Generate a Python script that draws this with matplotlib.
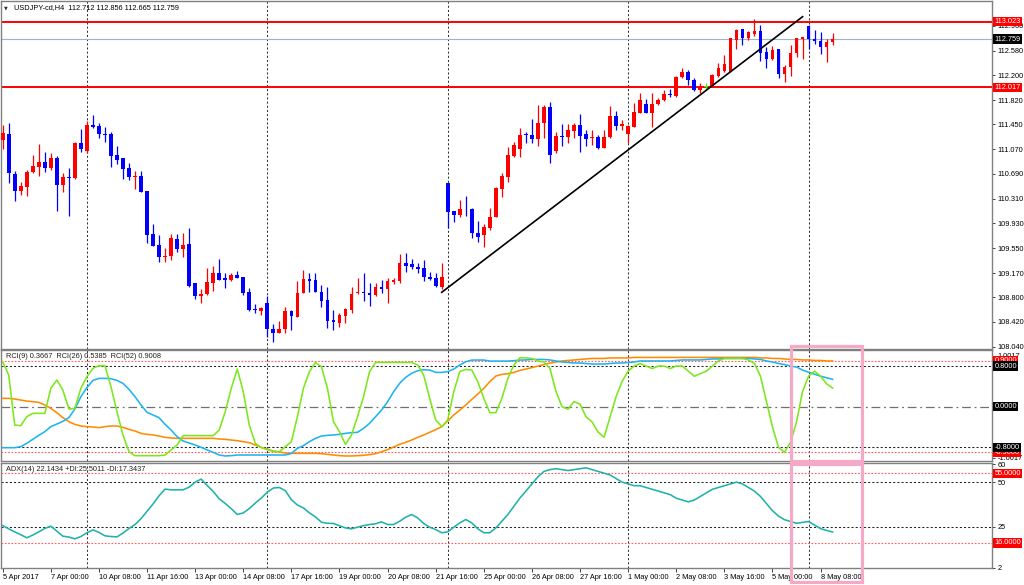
import numpy as np
import matplotlib
matplotlib.use('Agg')
import matplotlib.pyplot as plt
from matplotlib.patches import Rectangle

plt.rcParams['font.family'] = ['Liberation Sans', 'DejaVu Sans']

symbol = 'USDJPY-cd,H4'

opens = [111.21, 111.297, 110.688, 110.433, 110.494, 110.714, 110.801, 110.877, 110.775, 110.929,
         110.52, 110.647, 110.632, 111.159, 111.046, 111.445, 111.424, 111.307, 111.297, 110.98,
         110.929, 110.775, 110.637, 110.658, 110.428, 109.763, 109.599, 109.415, 109.431, 109.691,
         109.538, 109.615, 109.022, 108.817, 108.843, 109.022, 109.165, 109.088, 109.062, 109.139,
         109.103, 108.884, 108.618, 108.592, 108.715, 108.316, 108.255, 108.306, 108.587, 108.5,
         108.868, 109.078, 109.062, 108.884, 108.756, 108.449, 108.408, 108.515, 108.602, 108.858,
         108.873, 108.863, 108.832, 108.955, 108.924, 109.037, 109.052, 109.318, 109.308, 109.262,
         109.241, 109.114, 109.088, 108.96, 110.545, 110.116, 110.065, 110.157, 110.157, 109.778,
         109.753, 109.855, 110.034, 110.463, 110.647, 110.969, 111.072, 111.302, 111.286, 111.225,
         111.465, 111.721, 111.041, 111.276, 111.261, 111.353, 111.44, 111.297, 111.24, 111.261,
         111.082, 111.251, 111.578, 111.43, 111.302, 111.414, 111.629, 111.762, 111.629, 111.757,
         111.823, 111.915, 111.885, 112.181, 112.258, 112.13, 111.977, 112.028, 112.028, 112.191,
         112.273, 112.258, 112.743, 112.907, 112.779, 112.836, 112.881, 112.554, 112.452, 112.6,
         112.222, 112.324, 112.539, 112.754, 112.963, 112.759, 112.733, 112.631, 112.712]
highs = [111.44, 111.465, 110.734, 110.56, 110.75, 110.98, 111.148, 111.031, 111.005, 110.964,
         110.698, 110.785, 111.184, 111.373, 111.506, 111.593, 111.465, 111.404, 111.338, 111.118,
         110.929, 110.852, 110.734, 110.734, 110.428, 109.921, 109.753, 109.548, 109.763, 109.763,
         109.778, 109.865, 109.022, 108.919, 109.241, 109.282, 109.39, 109.175, 109.165, 109.206,
         109.114, 108.935, 108.689, 108.643, 108.817, 108.388, 108.434, 108.653, 108.602, 109.047,
         109.216, 109.165, 109.165, 108.986, 108.96, 108.602, 108.551, 108.628, 108.96, 109.088,
         109.175, 109.011, 109.022, 109.057, 109.088, 109.088, 109.461, 109.482, 109.385, 109.318,
         109.369, 109.19, 109.175, 109.318, 110.555, 110.126, 110.289, 110.351, 110.162, 109.967,
         109.916, 110.162, 110.484, 110.709, 111.107, 111.184, 111.399, 111.338, 111.527, 111.747,
         111.747, 111.798, 111.338, 111.45, 111.45, 111.476, 111.609, 111.363, 111.363, 111.286,
         111.363, 111.731, 111.66, 111.516, 111.44, 111.772, 111.925, 111.833, 111.936, 111.849,
         111.977, 111.987, 112.191, 112.309, 112.283, 112.156, 112.079, 112.079, 112.217, 112.386,
         112.513, 112.779, 112.907, 112.912, 112.881, 113.066, 112.974, 112.641, 112.651, 112.6,
         112.36, 112.667, 112.779, 112.795, 112.974, 112.897, 112.861, 112.759, 112.856]
lows = [111.067, 110.555, 110.279, 110.366, 110.356, 110.698, 110.658, 110.724, 110.75, 110.121,
        110.417, 110.049, 110.612, 111.031, 111.005, 111.389, 111.235, 111.184, 110.801, 110.837,
        110.612, 110.596, 110.453, 110.417, 109.625, 109.589, 109.333, 109.344, 109.369, 109.497,
        109.42, 108.96, 108.771, 108.715, 108.832, 108.894, 109.057, 108.945, 109.047, 109.088,
        108.832, 108.592, 108.551, 108.526, 108.183, 108.117, 108.244, 108.244, 108.296, 108.49,
        108.858, 108.873, 108.873, 108.653, 108.321, 108.296, 108.347, 108.398, 108.551, 108.848,
        108.746, 108.664, 108.817, 108.858, 108.705, 109.001, 109.011, 109.18, 109.226, 109.175,
        109.052, 109.062, 108.96, 108.919, 109.855, 109.947, 110.034, 110.044, 109.702, 109.65,
        109.574, 109.829, 110.024, 110.341, 110.571, 110.954, 110.954, 111.159, 111.159, 111.123,
        111.235, 110.862, 111.005, 111.118, 111.159, 111.235, 111.031, 111.123, 111.133, 111.067,
        111.082, 111.235, 111.363, 111.363, 111.159, 111.404, 111.619, 111.619, 111.414, 111.747,
        111.813, 111.864, 111.874, 112.166, 112.053, 111.961, 111.936, 111.977, 112.018, 112.181,
        112.258, 112.248, 112.6, 112.667, 112.743, 112.81, 112.421, 112.309, 112.437, 112.156,
        112.094, 112.191, 112.488, 112.447, 112.6, 112.677, 112.524, 112.401, 112.665]
closes = [111.312, 110.698, 110.433, 110.504, 110.724, 110.811, 110.877, 110.775, 110.929, 110.52,
          110.647, 110.632, 111.159, 111.067, 111.44, 111.414, 111.297, 111.292, 110.964, 110.903,
          110.765, 110.647, 110.658, 110.417, 109.753, 109.589, 109.42, 109.431, 109.702, 109.538,
          109.599, 108.976, 108.817, 108.848, 109.032, 109.165, 109.062, 109.062, 109.139, 109.098,
          108.868, 108.602, 108.602, 108.628, 108.306, 108.255, 108.316, 108.587, 108.51, 108.868,
          109.078, 109.052, 108.873, 108.746, 108.439, 108.423, 108.526, 108.618, 108.848, 108.878,
          108.858, 108.832, 108.95, 108.924, 109.047, 109.062, 109.328, 109.282, 109.257, 109.231,
          109.103, 109.083, 108.97, 109.114, 110.111, 110.065, 110.151, 110.146, 109.788, 109.727,
          109.88, 110.034, 110.479, 110.658, 110.98, 111.133, 111.286, 111.286, 111.225, 111.465,
          111.711, 110.98, 111.271, 111.261, 111.363, 111.44, 111.271, 111.225, 111.256, 111.082,
          111.261, 111.578, 111.424, 111.45, 111.424, 111.634, 111.823, 111.629, 111.762, 111.823,
          111.915, 111.90, 112.181, 112.253, 112.13, 111.977, 112.038, 112.028, 112.207, 112.309,
          112.37, 112.769, 112.897, 112.769, 112.866, 112.881, 112.549, 112.452, 112.59, 112.222,
          112.334, 112.549, 112.769, 112.795, 112.754, 112.728, 112.631, 112.718, 112.759]

rci9 = [0.885, 0.623, -0.361, -0.374, -0.197, -0.131, -0.131, -0.131, 0.361, 0.525,
        0.328, -0.046, -0.033, 0.361, 0.59, 0.754, 0.807, 0.807, 0.393, -0.098,
        -0.557, -0.885, -0.964, -0.964, -0.964, -0.964, -0.964, -0.951, -0.852, -0.754,
        -0.57, -0.57, -0.57, -0.57, -0.57, -0.57, -0.459, -0.098, 0.361, 0.741,
        0.295, -0.361, -0.721, -0.807, -0.833, -0.885, -0.885, -0.787, -0.689, -0.197,
        0.361, 0.689, 0.872, 0.787, 0.361, -0.295, -0.492, -0.741, -0.557, -0.197,
        0.197, 0.689, 0.872, 0.872, 0.872, 0.872, 0.872, 0.872, 0.872, 0.82,
        0.623, 0.164, -0.262, -0.393, -0.262, 0.295, 0.689, 0.734, 0.721, 0.492,
        0.164, -0.118, -0.118, 0.164, 0.557, 0.82, 0.964,
        0.96, 0.95, 0.9, 0.88, 0.75, 0.3, 0.0, -0.05, 0.1, 0.05,
        -0.2, -0.3, -0.5, -0.6, -0.2, 0.2, 0.5, 0.7, 0.8, 0.85,
        0.8, 0.75, 0.8, 0.8, 0.75, 0.8, 0.8, 0.7, 0.6, 0.65,
        0.7, 0.8, 0.9, 0.95, 0.95, 0.95, 0.95, 0.92, 0.85, 0.6,
        0.1, -0.4, -0.8, -0.9, -0.7, -0.3, 0.3, 0.6, 0.7, 0.6,
        0.45, 0.3667]
rci26 = [-0.807, -0.807, -0.807, -0.787, -0.721, -0.643, -0.564, -0.492, -0.393, -0.341,
         -0.289, -0.216, -0.046, 0.197, 0.374, 0.518, 0.557, 0.557, 0.551, 0.518,
         0.459, 0.341, 0.197, 0.033, -0.111, -0.164, -0.216, -0.348, -0.459, -0.59,
         -0.675, -0.715, -0.754, -0.8, -0.852, -0.898, -0.951, -0.97, -0.964, -0.951,
         -0.951, -0.951, -0.951, -0.951, -0.951, -0.951, -0.951, -0.951, -0.92, -0.82,
         -0.767, -0.689, -0.623, -0.577, -0.564, -0.557, -0.544, -0.525, -0.511, -0.505,
         -0.426, -0.328, -0.197, -0.066, 0.098, 0.295, 0.459, 0.577, 0.656, 0.708,
         0.728, 0.721, 0.675, 0.675, 0.689, 0.741, 0.82, 0.885, 0.918, 0.918,
         0.918, 0.898, 0.898, 0.898, 0.898, 0.905, 0.918,
         0.92, 0.93, 0.93, 0.93, 0.92, 0.9, 0.88, 0.87, 0.86, 0.86,
         0.85, 0.84, 0.84, 0.84, 0.85, 0.86, 0.86, 0.87, 0.88, 0.9,
         0.9, 0.9, 0.9, 0.9, 0.9, 0.91, 0.92, 0.92, 0.92, 0.92,
         0.93, 0.94, 0.94, 0.95, 0.95, 0.95, 0.95, 0.95, 0.94, 0.93,
         0.9, 0.88, 0.85, 0.83, 0.8, 0.78, 0.72, 0.68, 0.64, 0.6,
         0.57, 0.5385]
rci52 = [0.164, 0.164, 0.151, 0.131, 0.111, 0.098, 0.085, 0.033, -0.033, -0.118,
         -0.216, -0.295, -0.348, -0.38, -0.393, -0.4, -0.413, -0.393, -0.38, -0.38,
         -0.407, -0.446, -0.479, -0.525, -0.544, -0.557, -0.577, -0.603, -0.616, -0.623,
         -0.623, -0.623, -0.623, -0.623, -0.623, -0.623, -0.636, -0.643, -0.656, -0.669,
         -0.689, -0.708, -0.754, -0.8, -0.846, -0.872, -0.892, -0.911, -0.918, -0.918,
         -0.918, -0.918, -0.918, -0.925, -0.938, -0.951, -0.964, -0.97, -0.97, -0.964,
         -0.957, -0.944, -0.925, -0.885, -0.846, -0.793, -0.741, -0.702, -0.656, -0.603,
         -0.557, -0.505, -0.452, -0.393, -0.282, -0.164, -0.066, 0.033, 0.144, 0.249,
         0.361, 0.492, 0.603, 0.636, 0.649, 0.675, 0.715,
         0.74, 0.77, 0.8, 0.83, 0.86, 0.88, 0.9, 0.91, 0.92, 0.93,
         0.94, 0.95, 0.95, 0.95, 0.96, 0.96, 0.96, 0.96, 0.97, 0.97,
         0.97, 0.97, 0.97, 0.97, 0.97, 0.97, 0.97, 0.97, 0.97, 0.97,
         0.97, 0.97, 0.97, 0.97, 0.97, 0.97, 0.97, 0.97, 0.97, 0.96,
         0.96, 0.95, 0.95, 0.94, 0.93, 0.93, 0.92, 0.92, 0.91, 0.91,
         0.90, 0.9008]
adx = [25.7, 23.9, 22.2, 20.6, 18.9, 20.4, 22.2, 24.1, 25.4, 22.6,
       19.8, 19.3, 18.3, 19.6, 21.7, 23.3, 21.9, 20.0, 19.6, 19.4,
       21.5, 24.1, 26.3, 29.6, 33.7, 37.8, 42.4, 46.1, 45.7, 45.7,
       45.7, 47.2, 50.0, 51.7, 48.1, 44.8, 40.7, 38.1, 35.2, 31.9,
       32.8, 35.2, 38.3, 41.1, 44.4, 46.7, 47.0, 45.2, 40.2, 37.2,
       35.6, 32.8, 30.6, 27.6, 27.0, 26.9, 25.6, 24.4, 23.9, 24.8,
       25.7, 26.3, 26.7, 27.8, 26.3, 26.3, 28.1, 30.4, 31.9, 30.0,
       26.9, 24.8, 23.5, 21.7, 22.2, 24.8, 27.2, 29.1, 27.2, 23.9,
       21.7, 21.7, 24.4, 28.1, 31.9, 36.5, 41.1,
       45, 49, 53, 56, 57, 57.5, 57, 56.5, 57, 57.5,
       58, 57, 56, 55, 54, 52, 50, 49, 48, 48,
       47, 46, 45, 44, 43, 41, 40, 39, 40, 42,
       44, 46, 47, 48, 49, 50, 49, 47, 45, 42,
       38, 34, 31, 29, 28, 27, 27.5, 28, 26, 24,
       23, 22.1434]
plus_di_last = 25.5011
minus_di_last = 17.3437

x_tick_bars = [0, 8, 16, 24, 32, 40, 48, 56, 64, 72, 80, 88, 96, 104, 112, 120, 128, 136]
x_tick_labels = ['5 Apr 2017', '7 Apr 00:00', '10 Apr 08:00', '11 Apr 16:00', '13 Apr 00:00',
                 '14 Apr 08:00', '17 Apr 16:00', '19 Apr 00:00', '20 Apr 08:00', '21 Apr 16:00',
                 '25 Apr 00:00', '26 Apr 08:00', '27 Apr 16:00', '1 May 00:00', '2 May 08:00',
                 '3 May 16:00', '5 May 00:00', '8 May 08:00']
grid_bars = [14, 44, 74, 104, 134]
price_ticks = [108.04, 108.42, 108.80, 109.17, 109.55, 109.93, 110.31, 110.69,
               111.07, 111.45, 111.82, 112.20, 112.58, 112.96]
resistance = 113.023
support = 112.017
bid = closes[-1]
trend_bars = [73, 133]
trend_prices = [108.874, 113.101]
rci_levels_black = [0.8, -0.8]
rci_levels_red = [0.9, -0.9]
adx_levels_black = [50, 25]
adx_levels_red = [55, 16]

# ---------------- layout ----------------
W, H = 1024, 585
fig = plt.figure(figsize=(W / 100, H / 100), dpi=100)


def rect(x0, y0, x1, y1):
    return [x0 / W, 1 - y1 / H, (x1 - x0) / W, (y1 - y0) / H]


ax = fig.add_axes(rect(1, 1, 992, 348.5))
ax_r = fig.add_axes(rect(1, 350, 992, 461), sharex=ax)
ax_a = fig.add_axes(rect(1, 463, 992, 568), sharex=ax)

FS = 5.3
for a in (ax, ax_r, ax_a):
    for s in a.spines.values():
        s.set_color('#808080')
        s.set_linewidth(1.0)
    a.yaxis.tick_right()
    a.tick_params(axis='y', length=2.5, width=0.7, pad=1.5, labelsize=FS,
                  colors='#404040', labelcolor='black')
    for gb in grid_bars:
        a.axvline(gb, color='#333333', lw=0.75, ls=(0, (2, 2)), zorder=1)

ax.set_xlim(-0.283, 164.5)
ax.tick_params(axis='x', bottom=False, labelbottom=False)
ax_r.tick_params(axis='x', bottom=False, labelbottom=False)

# ---------------- candles ----------------
o = np.array(opens)
h = np.array(highs)
l = np.array(lows)
c = np.array(closes)
xs = np.arange(len(o))
cols = np.where(c > o, '#FF0000', np.where(c < o, '#0000FF', '#33FF00'))
ax.vlines(xs, l, h, colors=cols, lw=0.9, zorder=3)
body = np.maximum(np.abs(c - o), 0.007)
ax.bar(xs, body, bottom=np.minimum(o, c), width=0.62, color=cols, lw=0, zorder=4)

ax.axhline(resistance, color='#FF0000', lw=1.4, zorder=2)
ax.axhline(support, color='#FF0000', lw=1.4, zorder=2)
ax.axhline(bid, color='#A3B2C8', lw=0.8, zorder=2)
ax.plot(trend_bars, trend_prices, color='black', lw=1.2, zorder=5)

ax.set_ylim(108.012, 113.342)
ax.set_yticks(price_ticks)
ax.set_yticklabels([f'{v:.3f}' for v in price_ticks])


def box(a, y, text, fc):
    a.text(1.0025, y, text, transform=a.get_yaxis_transform(), fontsize=FS,
           color='white', va='center', ha='left', clip_on=False, zorder=20,
           bbox=dict(boxstyle='square,pad=0.15', fc=fc, ec='none'))


box(ax, resistance, f'{resistance:.3f}', '#FF0000')
box(ax, support, f'{support:.3f}', '#FF0000')
box(ax, bid, f'{bid:.3f}', 'black')

fig.text(4 / W, 1 - 7.5 / H, '\u25BC', fontsize=3.5, va='center', ha='left', color='#303030',
         family=['DejaVu Sans'])
fig.text(14 / W, 1 - 8 / H,
         f'{symbol}  {opens[-1]:.3f} {highs[-1]:.3f} {lows[-1]:.3f} {closes[-1]:.3f}',
         fontsize=FS, va='center', ha='left', color='black')

# ---------------- RCI ----------------
ax_r.set_ylim(-1.069, 1.116)
for v in rci_levels_red:
    ax_r.axhline(v, color='#FF5A5A', lw=0.8, ls=(0, (1.5, 1.5)), zorder=1)
for v in rci_levels_black:
    ax_r.axhline(v, color='#222222', lw=0.75, ls=(0, (2, 2)), zorder=1)
ax_r.axhline(0, color='#707070', lw=0.9, ls=(0, (7, 3, 1.5, 3)), zorder=1)
ax_r.plot(xs, rci52, color='#FF8C00', lw=1.15, zorder=3)
ax_r.plot(xs, rci26, color='#1EB4F0', lw=1.15, zorder=4)
ax_r.plot(xs, rci9, color='#7CE81A', lw=1.15, zorder=5)
ax_r.set_yticks([1.0017, -1.0017])
ax_r.set_yticklabels(['1.0017', '-1.0017'])
for v in rci_levels_red:
    box(ax_r, v, f'{v:.4f}', '#FF0000')
for v in rci_levels_black + [0.0]:
    box(ax_r, v, f'{v:.4f}', 'black')
ax_r.text(5 / 991, 0.97,
          f'RCI(9) {rci9[-1]:.4f}  RCI(26) {rci26[-1]:.4f}  RCI(52) {rci52[-1]:.4f}',
          transform=ax_r.transAxes, fontsize=FS, va='top', ha='left', color='#202020', zorder=10)

# ---------------- ADX ----------------
ax_a.set_ylim(2.39, 60.7)
for v in adx_levels_red:
    ax_a.axhline(v, color='#FF5A5A', lw=0.8, ls=(0, (1.5, 1.5)), zorder=1)
for v in adx_levels_black:
    ax_a.axhline(v, color='#222222', lw=0.75, ls=(0, (2, 2)), zorder=1)
ax_a.plot(xs, adx, color='#20B2AA', lw=1.15, zorder=3)
ax_a.set_yticks([60, 50, 25, 2])
ax_a.set_yticklabels(['60', '50', '25', '2'])
for v in adx_levels_red:
    box(ax_a, v, f'{v:.4f}', '#FF0000')
ax_a.text(5 / 991, 0.97,
          f'ADX(14) {adx[-1]:.4f} +DI:{plus_di_last:.4f} -DI:{minus_di_last:.4f}',
          transform=ax_a.transAxes, fontsize=FS, va='top', ha='left', color='#202020', zorder=10)

ax_a.set_xticks(x_tick_bars)
ax_a.set_xticklabels(x_tick_labels, ha='left')
ax_a.tick_params(axis='x', length=3, width=0.7, pad=1.5, labelsize=FS,
                 colors='#404040', labelcolor='black')

# ---------------- pink highlight boxes ----------------
pink = '#F5A9C6'
for (y0, y1) in [(346, 461), (464, 582)]:
    fig.add_artist(Rectangle((791 / W, 1 - y1 / H), (862 - 791) / W, (y1 - y0) / H,
                             transform=fig.transFigure, fill=False, ec=pink, lw=2.3, zorder=30))

fig.savefig('out.png', dpi=100)
